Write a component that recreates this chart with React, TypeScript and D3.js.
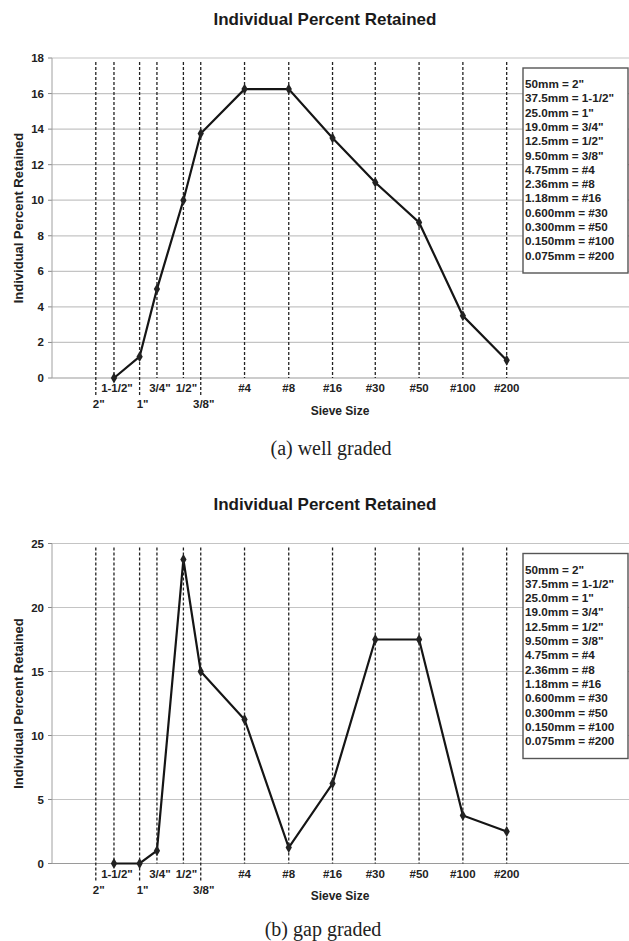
import React, { useEffect, useRef } from "react";
import * as d3 from "d3";

// sieve openings (mm) and their names, coarse to fine
const sieveSizesMm = [50, 37.5, 25, 19, 12.5, 9.5, 4.75, 2.36, 1.18, 0.6, 0.3, 0.15, 0.075];
const sieveLabels = ['2"', '1-1/2"', '1"', '3/4"', '1/2"', '3/8"', "#4", "#8", "#16", "#30", "#50", "#100", "#200"];
const lowerRowLabels = ['2"', '1"', '3/8"'];

// sieves that hold material (the 2" sieve retains nothing and has no point)
const retainedSizesMm = [37.5, 25, 19, 12.5, 9.5, 4.75, 2.36, 1.18, 0.6, 0.3, 0.15, 0.075];
const wellGraded = [0, 1.2, 5, 10, 13.75, 16.25, 16.25, 13.5, 11, 8.75, 3.5, 1];
const gapGraded = [0, 0, 1, 23.75, 15, 11.25, 1.25, 6.25, 17.5, 17.5, 3.75, 2.5];

const wellTicks = [0, 2, 4, 6, 8, 10, 12, 14, 16, 18];
const gapTicks = [0, 5, 10, 15, 20, 25];

const legendLines = [
  '50mm = 2"',
  '37.5mm = 1-1/2"',
  '25.0mm = 1"',
  '19.0mm = 3/4"',
  '12.5mm = 1/2"',
  '9.50mm = 3/8"',
  "4.75mm = #4",
  "2.36mm = #8",
  "1.18mm = #16",
  "0.600mm = #30",
  "0.300mm = #50",
  "0.150mm = #100",
  "0.075mm = #200",
];

const W = 629;
const H = 941;
const plotLeft = 52;
const plotRight = 629;
const plotH = 320;
const sans = "'Liberation Sans', Arial, sans-serif";
const serif = "'Liberation Serif', 'Times New Roman', serif";

type Panel = {
  top: number;
  yMax: number;
  ticks: number[];
  values: number[];
  caption: string;
  captionX: number;
  captionDy: number;
};

function drawPanel(svg: d3.Selection<SVGSVGElement, unknown, null, undefined>, p: Panel) {
  const g = svg.append("g").attr("transform", `translate(0,${p.top})`);

  // log axis running from 100mm (left) down to 0.01mm
  const x = d3.scaleLog().domain([100, 0.01]).range([plotLeft, plotLeft + 582]);
  const y = d3.scaleLinear().domain([0, p.yMax]).range([plotH, 0]);

  // title
  g.append("text")
    .attr("x", 325)
    .attr("y", -39)
    .attr("dy", "0.35em")
    .attr("text-anchor", "middle")
    .style("font-family", sans)
    .style("font-weight", "bold")
    .style("font-size", "17px")
    .style("fill", "#1a1a1a")
    .text("Individual Percent Retained");

  // horizontal gridlines + tick marks + labels
  p.ticks.forEach((t) => {
    g.append("line")
      .attr("x1", plotLeft)
      .attr("x2", plotRight)
      .attr("y1", y(t))
      .attr("y2", y(t))
      .attr("stroke", t === 0 ? "#9a9a9a" : "#c4c4c4")
      .attr("stroke-width", 1.2);
    g.append("line")
      .attr("x1", plotLeft - 4)
      .attr("x2", plotLeft)
      .attr("y1", y(t))
      .attr("y2", y(t))
      .attr("stroke", "#888");
    g.append("text")
      .attr("x", plotLeft - 8)
      .attr("y", y(t))
      .attr("dy", "0.35em")
      .attr("text-anchor", "end")
      .style("font-family", sans)
      .style("font-weight", "bold")
      .style("font-size", "11.5px")
      .style("fill", "#222")
      .text(t);
  });

  // y axis line
  g.append("line")
    .attr("x1", plotLeft)
    .attr("x2", plotLeft)
    .attr("y1", 0)
    .attr("y2", plotH)
    .attr("stroke", "#a0a0a0");

  // dashed sieve lines and their labels
  sieveSizesMm.forEach((s, i) => {
    const lbl = sieveLabels[i];
    const lower = lowerRowLabels.includes(lbl);
    g.append("line")
      .attr("x1", x(s))
      .attr("x2", x(s))
      .attr("y1", 4)
      .attr("y2", lower ? plotH + 17 : plotH)
      .attr("stroke", "#222")
      .attr("stroke-width", 1.3)
      .attr("stroke-dasharray", "3,2");
    g.append("text")
      .attr("x", x(s) + (lbl.includes('"') ? 3 : 0))
      .attr("y", lower ? plotH + 26 : plotH + 10)
      .attr("dy", "0.35em")
      .attr("text-anchor", "middle")
      .style("font-family", sans)
      .style("font-weight", "bold")
      .style("font-size", "11.5px")
      .style("fill", "#222")
      .text(lbl);
  });

  // axis titles
  g.append("text")
    .attr("x", 340)
    .attr("y", plotH + 32.5)
    .attr("dy", "0.35em")
    .attr("text-anchor", "middle")
    .style("font-family", sans)
    .style("font-weight", "bold")
    .style("font-size", "12px")
    .style("fill", "#222")
    .text("Sieve Size");

  g.append("text")
    .attr("transform", `translate(18,${plotH / 2}) rotate(-90)`)
    .attr("dy", "0.35em")
    .attr("text-anchor", "middle")
    .style("font-family", sans)
    .style("font-weight", "bold")
    .style("font-size", "13px")
    .style("fill", "#222")
    .text("Individual Percent Retained");

  // legend box
  const lg = g.append("g").attr("transform", "translate(523,10)");
  lg.append("rect")
    .attr("width", 105)
    .attr("height", 205)
    .attr("fill", "#fff")
    .attr("stroke", "#555")
    .attr("stroke-width", 1.4);
  legendLines.forEach((t, i) => {
    lg.append("text")
      .attr("x", 2)
      .attr("y", 16 + i * 14.3)
      .attr("dy", "0.35em")
      .style("font-family", sans)
      .style("font-weight", "bold")
      .style("font-size", "11.7px")
      .style("fill", "#222")
      .text(t);
  });

  // data line with diamond markers
  const pts = retainedSizesMm.map((s, i) => [x(s), y(p.values[i])] as [number, number]);
  g.append("path")
    .attr("d", d3.line()(pts))
    .attr("fill", "none")
    .attr("stroke", "#151515")
    .attr("stroke-width", 2.2);
  const diamond = d3.symbol().type(d3.symbolDiamond).size(34);
  g.selectAll(".pt")
    .data(pts)
    .enter()
    .append("path")
    .attr("class", "pt")
    .attr("d", diamond)
    .attr("transform", (d) => `translate(${d[0]},${d[1]})`)
    .attr("fill", "#222");

  // caption under the chart
  g.append("text")
    .attr("x", p.captionX)
    .attr("y", plotH + p.captionDy)
    .attr("dy", "0.35em")
    .attr("text-anchor", "middle")
    .style("font-family", serif)
    .style("font-size", "20px")
    .style("fill", "#222")
    .text(p.caption);
}

export default function App() {
  const ref = useRef<SVGSVGElement>(null);

  useEffect(() => {
    const svg = d3.select(ref.current as SVGSVGElement);
    svg.selectAll("*").remove();
    drawPanel(svg, {
      top: 58,
      yMax: 18,
      ticks: wellTicks,
      values: wellGraded,
      caption: "(a) well graded",
      captionX: 331,
      captionDy: 70,
    });
    drawPanel(svg, {
      top: 543.5,
      yMax: 25,
      ticks: gapTicks,
      values: gapGraded,
      caption: "(b) gap graded",
      captionX: 323,
      captionDy: 65.5,
    });
  }, []);

  return (
    <svg
      ref={ref}
      width={W}
      height={H}
      style={{ position: "absolute", left: 0, top: 0, background: "#fff", display: "block" }}
    />
  );
}
